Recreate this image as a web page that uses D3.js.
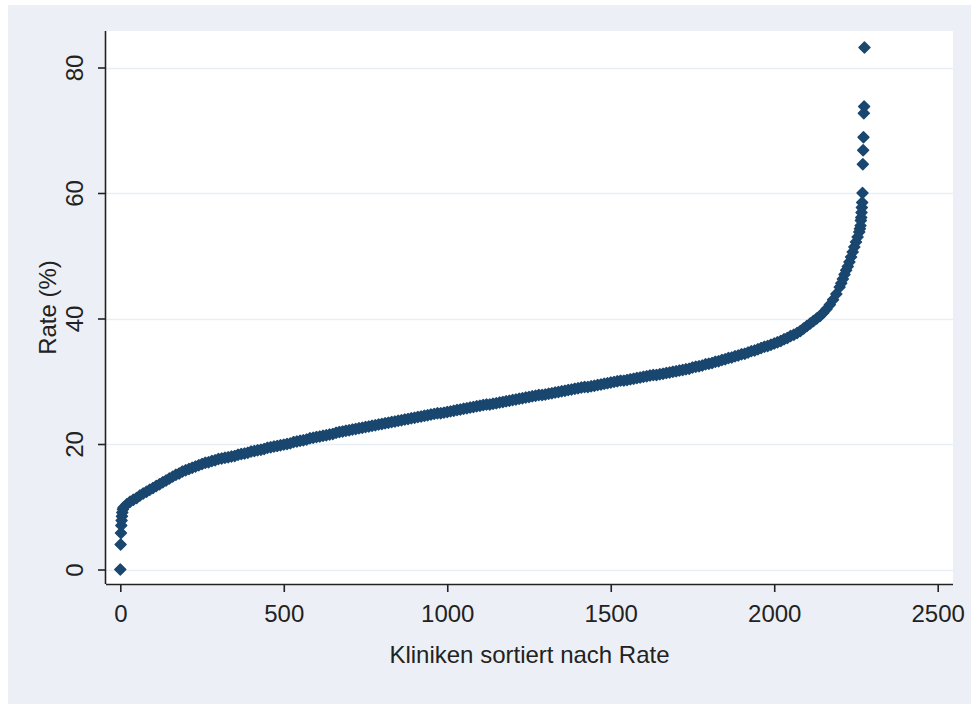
<!DOCTYPE html>
<html>
<head>
<meta charset="utf-8">
<script src="https://cdn.jsdelivr.net/npm/d3@7"></script>
<style>
  html, body { margin: 0; padding: 0; background: #ffffff; }
  svg { display: block; }
  text { font-family: "Liberation Sans", Arial, sans-serif; }
</style>
</head>
<body>
<svg id="chart" width="971" height="708"></svg>
<script>
// ---- data ----
const ranks = [
  0, 1, 2, 3, 4, 5, 6, 8,
  10, 20, 30, 40, 50, 60, 70, 80, 90, 100,
  110, 120, 130, 140, 150, 160, 170, 180, 190, 200,
  210, 220, 230, 240, 250, 260, 270, 280, 290, 300,
  310, 320, 330, 340, 350, 360, 370, 380, 390, 400,
  410, 420, 430, 440, 450, 460, 470, 480, 490, 500,
  510, 520, 530, 540, 550, 560, 570, 580, 590, 600,
  610, 620, 630, 640, 650, 660, 670, 680, 690, 700,
  710, 720, 730, 740, 750, 760, 770, 780, 790, 800,
  810, 820, 830, 840, 850, 860, 870, 880, 890, 900,
  910, 920, 930, 940, 950, 960, 970, 980, 990, 1000,
  1010, 1020, 1030, 1040, 1050, 1060, 1070, 1080, 1090, 1100,
  1110, 1120, 1130, 1140, 1150, 1160, 1170, 1180, 1190, 1200,
  1210, 1220, 1230, 1240, 1250, 1260, 1270, 1280, 1290, 1300,
  1310, 1320, 1330, 1340, 1350, 1360, 1370, 1380, 1390, 1400,
  1410, 1420, 1430, 1440, 1450, 1460, 1470, 1480, 1490, 1500,
  1510, 1520, 1530, 1540, 1550, 1560, 1570, 1580, 1590, 1600,
  1610, 1620, 1630, 1640, 1650, 1660, 1670, 1680, 1690, 1700,
  1710, 1720, 1730, 1740, 1750, 1760, 1770, 1780, 1790, 1800,
  1810, 1820, 1830, 1840, 1850, 1860, 1870, 1880, 1890, 1900,
  1910, 1920, 1930, 1940, 1950, 1960, 1970, 1980, 1990, 2000,
  2010, 2020, 2030, 2040, 2050, 2060, 2070, 2080, 2090, 2100,
  2110, 2120, 2130, 2140, 2150, 2160, 2170, 2180, 2190, 2200,
  2205, 2210, 2215, 2220, 2225, 2230, 2235, 2240, 2245, 2250, 2255, 2260,
  2262, 2264, 2265, 2266, 2267, 2268, 2269, 2270, 2271, 2272, 2273, 2274, 2275, 2276
];
const rates = [
  0.0, 4.0, 5.8, 7.0, 7.8, 8.5, 9.1, 9.6,
  9.9, 10.4, 10.8, 11.1, 11.4, 11.8, 12.1, 12.4, 12.7, 13.0,
  13.3, 13.6, 13.9, 14.2, 14.5, 14.8, 15.1, 15.3, 15.6, 15.8,
  16.0, 16.2, 16.4, 16.6, 16.8, 17.0, 17.1, 17.3, 17.4, 17.6,
  17.7, 17.8, 17.9, 18.0, 18.1, 18.3, 18.4, 18.5, 18.6, 18.8,
  18.9, 19.0, 19.1, 19.2, 19.4, 19.5, 19.6, 19.7, 19.8, 19.9,
  20.0, 20.1, 20.3, 20.4, 20.5, 20.6, 20.7, 20.9, 21.0, 21.1,
  21.2, 21.3, 21.4, 21.5, 21.6, 21.8, 21.9, 22.0, 22.1, 22.2,
  22.3, 22.4, 22.5, 22.6, 22.7, 22.8, 22.9, 23.0, 23.1, 23.2,
  23.3, 23.4, 23.5, 23.6, 23.7, 23.8, 23.9, 24.0, 24.1, 24.2,
  24.3, 24.4, 24.5, 24.6, 24.7, 24.8, 24.9, 24.9, 25.0, 25.1,
  25.2, 25.3, 25.4, 25.5, 25.6, 25.7, 25.8, 25.9, 26.0, 26.1,
  26.2, 26.3, 26.3, 26.4, 26.5, 26.6, 26.7, 26.8, 26.9, 27.0,
  27.1, 27.2, 27.3, 27.4, 27.5, 27.6, 27.7, 27.8, 27.8, 27.9,
  28.0, 28.1, 28.2, 28.3, 28.4, 28.5, 28.6, 28.7, 28.8, 28.9,
  29.0, 29.1, 29.1, 29.2, 29.3, 29.4, 29.5, 29.6, 29.7, 29.8,
  29.9, 30.0, 30.1, 30.1, 30.2, 30.3, 30.4, 30.5, 30.6, 30.7,
  30.8, 30.9, 31.0, 31.0, 31.1, 31.2, 31.3, 31.4, 31.5, 31.6,
  31.7, 31.8, 31.9, 32.0, 32.2, 32.3, 32.4, 32.5, 32.7, 32.8,
  32.9, 33.1, 33.2, 33.4, 33.5, 33.7, 33.8, 34.0, 34.1, 34.3,
  34.4, 34.6, 34.8, 34.9, 35.1, 35.3, 35.5, 35.6, 35.8, 36.0,
  36.2, 36.4, 36.7, 36.9, 37.2, 37.4, 37.7, 38.0, 38.4, 38.8,
  39.2, 39.6, 40.0, 40.4, 40.9, 41.5, 42.2, 43.0, 43.9, 45.0,
  45.6, 46.3, 47.0, 47.7, 48.3, 49.0, 49.8, 50.6, 51.4, 52.2, 53.0, 53.8,
  54.3, 54.8, 55.6, 56.1, 56.9, 57.7, 58.5, 60.0, 64.6, 66.8, 68.9, 72.7, 73.8, 83.2
];
const xTicks = [0, 500, 1000, 1500, 2000, 2500];
const yTicks = [0, 20, 40, 60, 80];
const xTitle = "Kliniken sortiert nach Rate";
const yTitle = "Rate (%)";

// ---- layout ----
const svg = d3.select("#chart");
const W = 971, H = 708;
const plot = { left: 106, right: 953, top: 31, bottom: 584 };

svg.append("rect").attr("x", 8).attr("y", 5).attr("width", W - 8).attr("height", H - 9)
  .attr("fill", "#eceff5");
svg.append("rect").attr("x", plot.left).attr("y", plot.top)
  .attr("width", plot.right - plot.left).attr("height", plot.bottom - plot.top)
  .attr("fill", "#ffffff");

const x = d3.scaleLinear().domain([0, 2500]).range([120.3, 937.7]);
const y = d3.scaleLinear().domain([0, 80]).range([569.5, 67.5]);

// gridlines
svg.append("g").selectAll("line").data(yTicks).join("line")
  .attr("x1", plot.left).attr("x2", plot.right)
  .attr("y1", d => Math.round(y(d)) + 0.5).attr("y2", d => Math.round(y(d)) + 0.5)
  .attr("stroke", "#e8eef5").attr("stroke-width", 1.5);

// points
const pts = ranks.map((r, i) => ({ r, v: rates[i] }));
const s = 5.5;
const diamond = `M0,${-s}L${s},0L0,${s}L${-s},0Z`;
svg.append("g").selectAll("path").data(pts).join("path")
  .attr("transform", d => `translate(${x(d.r)},${y(d.v)})`)
  .attr("d", diamond)
  .attr("fill", "#1a476f")
  .attr("stroke", "#1a476f")
  .attr("stroke-width", 1.4)
  .attr("stroke-linejoin", "round");

// axes
const axisColor = "#222";
const gx = svg.append("g").attr("transform", `translate(0,${plot.bottom})`)
  .call(d3.axisBottom(x).tickValues(xTicks).tickFormat(d3.format("d")).tickSize(8).tickSizeOuter(0));
gx.select(".domain").attr("d", `M${plot.left},0.5H${plot.right}`).attr("stroke", axisColor).attr("stroke-width", 1.6);
gx.selectAll(".tick line").attr("stroke", axisColor).attr("stroke-width", 1.6);
gx.selectAll(".tick text").attr("y", 38).attr("dy", null)
  .attr("font-size", 24).attr("fill", "#222").attr("font-family", "Liberation Sans, Arial, sans-serif");

const gy = svg.append("g").attr("transform", `translate(${plot.left},0)`)
  .call(d3.axisLeft(y).tickValues(yTicks).tickFormat(d3.format("d")).tickSize(8).tickSizeOuter(0));
gy.select(".domain").attr("d", `M-0.5,${plot.top}V${plot.bottom}`).attr("stroke", axisColor).attr("stroke-width", 1.6);
gy.selectAll(".tick line").attr("stroke", axisColor).attr("stroke-width", 1.6);
gy.selectAll(".tick text")
  .attr("x", 0).attr("y", -23).attr("dy", null)
  .attr("transform", "rotate(-90)")
  .attr("text-anchor", "middle")
  .attr("font-size", 24).attr("fill", "#222").attr("font-family", "Liberation Sans, Arial, sans-serif");

// titles
svg.append("text")
  .attr("x", (plot.left + plot.right) / 2).attr("y", 663)
  .attr("text-anchor", "middle").attr("font-size", 24).attr("fill", "#222")
  .text(xTitle);
svg.append("text")
  .attr("transform", `translate(56,${(plot.top + plot.bottom) / 2}) rotate(-90)`)
  .attr("text-anchor", "middle").attr("font-size", 24).attr("fill", "#222")
  .text(yTitle);
</script>
</body>
</html>
